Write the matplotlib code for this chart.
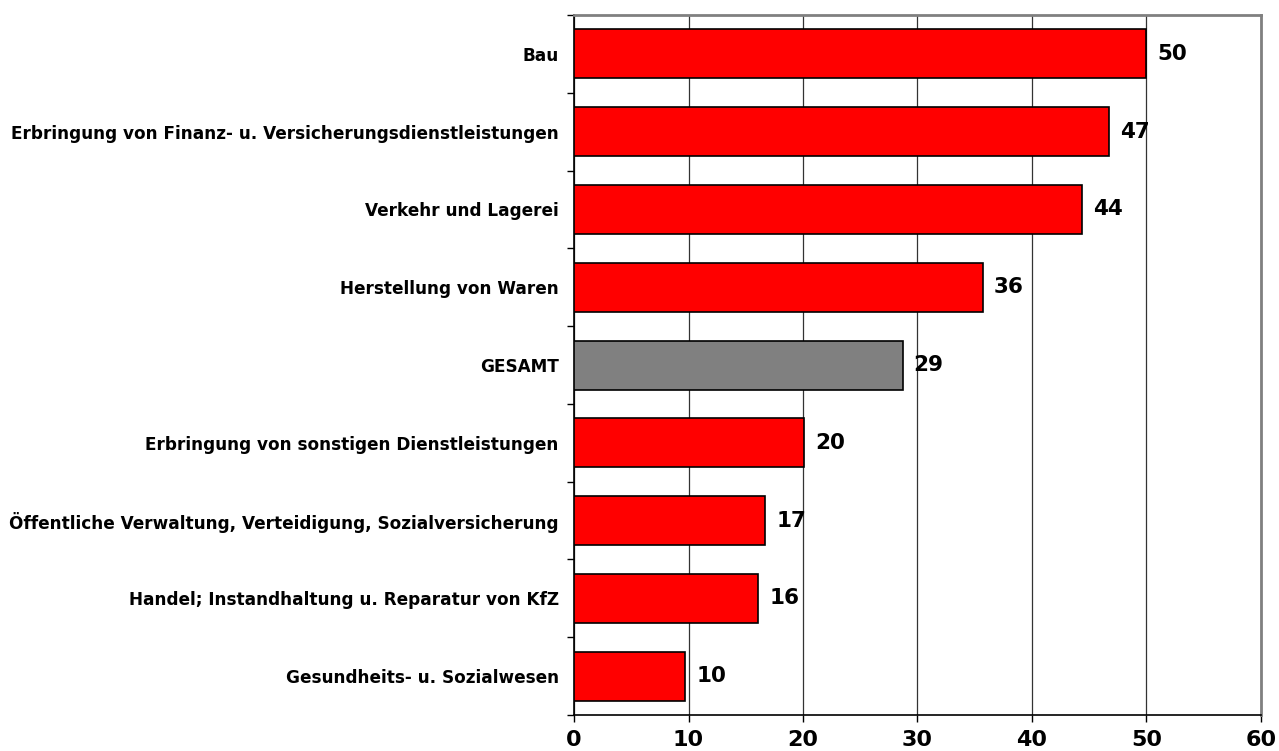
import numpy as np
import matplotlib
matplotlib.use('Agg')
from matplotlib import pyplot as plt

# 数据 (从上到下)
categories = ['Bau',
              'Erbringung von Finanz- u. Versicherungsdienstleistungen',
              'Verkehr und Lagerei',
              'Herstellung von Waren',
              'GESAMT',
              'Erbringung von sonstigen Dienstleistungen',
              'Öffentliche Verwaltung, Verteidigung, Sozialversicherung',
              'Handel; Instandhaltung u. Reparatur von KfZ',
              'Gesundheits- u. Sozialwesen']
values = [50.0, 46.7, 44.4, 35.7, 28.7, 20.1, 16.7, 16.1, 9.7]
value_labels = ['50', '47', '44', '36', '29', '20', '17', '16', '10']
colors = ['#ff0000', '#ff0000', '#ff0000', '#ff0000', '#808080',
          '#ff0000', '#ff0000', '#ff0000', '#ff0000']
x_ticks = [0, 10, 20, 30, 40, 50, 60]

plt.rcParams['font.family'] = ['DejaVu Sans']
plt.rcParams['font.weight'] = 'bold'

fig = plt.figure(figsize=(12.79, 7.51), dpi=100)
ax = fig.add_axes([0.4488, 0.0479, 0.5371, 0.9321])

y = np.arange(len(categories))
ax.barh(y, values, height=0.63, color=colors, edgecolor='black', linewidth=1.2, zorder=3)

# 数值标签
for yi, v, lab in zip(y, values, value_labels):
    ax.annotate(lab, (v, yi), xytext=(8, 0), textcoords='offset points',
                ha='left', va='center', fontsize=15.5, fontweight='bold')

ax.set_xlim(0, 60)
ax.set_ylim(len(categories) - 0.5, -0.5)
ax.set_xticks(x_ticks)
ax.set_xticklabels([str(t) for t in x_ticks], fontsize=16, fontweight='bold')
ax.set_yticks(y)
ax.set_yticklabels(categories, fontsize=12.2, fontweight='bold')
ax.set_yticks(np.arange(-0.5, len(categories), 1), minor=True)
ax.tick_params(axis='y', which='major', length=0, pad=11)
ax.tick_params(axis='y', which='minor', length=5, width=1, direction='out')
ax.tick_params(axis='x', length=5, width=1, direction='out', pad=6)

ax.grid(axis='x', color='#333333', linewidth=0.9, zorder=0)
ax.set_axisbelow(True)

for s in ['top', 'right']:
    ax.spines[s].set_color('#808080')
    ax.spines[s].set_linewidth(2)
for s in ['left', 'bottom']:
    ax.spines[s].set_color('black')
    ax.spines[s].set_linewidth(1.2)

fig.savefig('out.png', dpi=100)
